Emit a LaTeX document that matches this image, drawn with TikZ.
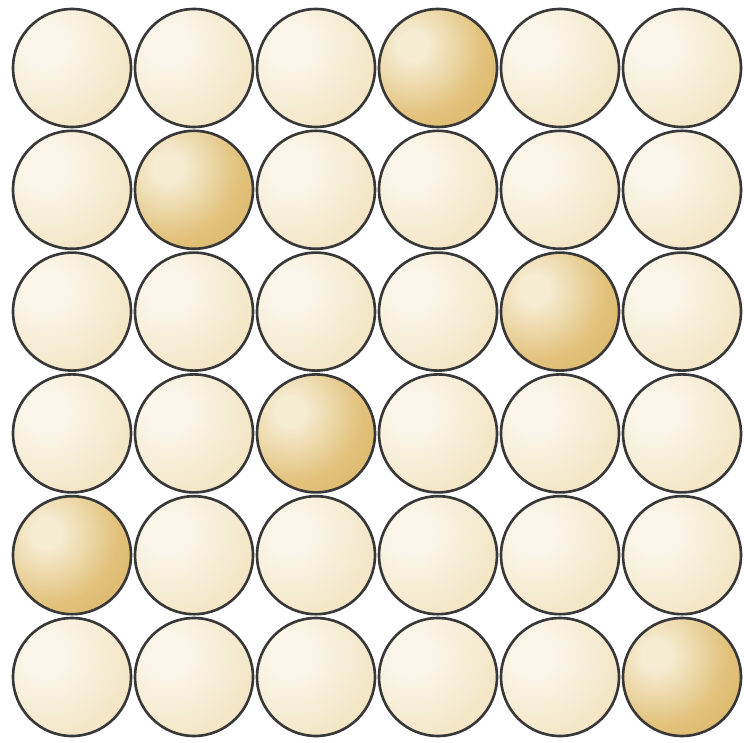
\documentclass[tikz,border=0pt]{standalone}
\usepackage{xcolor}
\usepackage{tikz}

\definecolor{clairHaut}{HTML}{FAF5E8}
\definecolor{clairMil}{HTML}{F4E7C8}
\definecolor{clairBord}{HTML}{EBD8AC}
\definecolor{fonceHaut}{HTML}{F6ECD2}
\definecolor{fonceMil}{HTML}{E2C27C}
\definecolor{fonceBord}{HTML}{CB9C3A}

\pgfdeclareradialshading{billeclaire}{\pgfpointorigin}{%
  color(0bp)=(clairHaut); color(6bp)=(clairHaut); color(22bp)=(clairMil);
  color(50bp)=(clairBord)}
\pgfdeclareradialshading{billefoncee}{\pgfpointorigin}{%
  color(0bp)=(fonceHaut); color(4bp)=(fonceHaut); color(19bp)=(fonceMil);
  color(50bp)=(fonceBord)}

\begin{document}
\begin{tikzpicture}[
  x=0.02cm, y=-0.02cm,
  bille/.style={
    circle, draw=black!78, line width=1.5pt,
    minimum size=2.36cm, inner sep=0pt
  },
  reflet/.style={
    path picture={
      \shade[shading=#1]
        ([shift={(-0.52cm,0.44cm)}]path picture bounding box.center)
        circle (1.85cm);
    }
  },
  claire/.style={bille, reflet=billeclaire},
  foncee/.style={bille, reflet=billefoncee}
]
  \useasboundingbox (0,0) rectangle (744,743);

  % --- Grille 6x6 : une bille foncee par rang ---
  \foreach \r/\d in {1/4, 2/2, 3/5, 4/3, 5/1, 6/6} {
    \foreach \c in {1,...,6} {
      \ifnum\c=\d \def\sty{foncee}\else \def\sty{claire}\fi
      \node[\sty] (b\r\c) at ({72+122*(\c-1)}, {68+121.8*(\r-1)}) {};
    }
  }

\end{tikzpicture}
\end{document}
